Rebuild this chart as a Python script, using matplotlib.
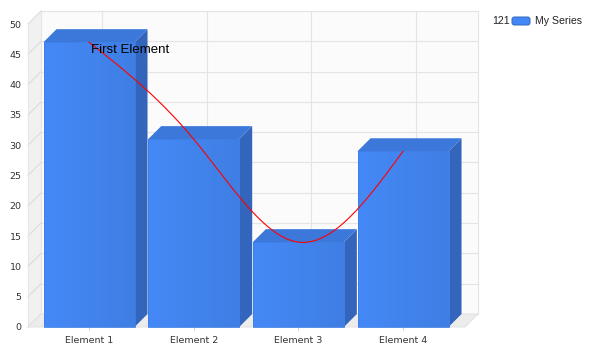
import numpy as np
import matplotlib
matplotlib.use("Agg")
import matplotlib.pyplot as plt
from matplotlib.patches import Polygon, FancyBboxPatch
from matplotlib.colors import LinearSegmentedColormap

# ---- data ----
categories = ["Element 1", "Element 2", "Element 3", "Element 4"]
values = [47, 31, 14, 29]
series_name = "My Series"
legend_prefix = "121"
point_label = "First Element"
y_ticks = list(range(0, 55, 5))
y_max = 50

W, H, DPI = 591, 354, 100
fig = plt.figure(figsize=(W / DPI, H / DPI), dpi=DPI)
fig.patch.set_facecolor("white")

# front plane of the 3D chart
ax_l, ax_b, ax_w, ax_h = 28, 27, 437, 303
ax = fig.add_axes([ax_l / W, ax_b / H, ax_w / W, ax_h / H])
xmin, xmax = -0.583, 3.592
ax.set_xlim(xmin, xmax)
ax.set_ylim(0, y_max)
for s in ax.spines.values():
    s.set_visible(False)
ax.patch.set_visible(False)

DEPTH = 13  # px
dx = DEPTH * (xmax - xmin) / ax_w
dy = DEPTH * y_max / ax_h

def poly(pts, fc, ec="none", lw=0.0, z=1):
    p = Polygon(pts, closed=True, facecolor=fc, edgecolor=ec, linewidth=lw,
                zorder=z, clip_on=False)
    ax.add_patch(p)

grid_c = "#e4e4e4"
# back wall
poly([(xmin + dx, dy), (xmax + dx, dy), (xmax + dx, y_max + dy), (xmin + dx, y_max + dy)],
     "#fbfbfb", z=0.5)
for v in y_ticks:
    ax.plot([xmin + dx, xmax + dx], [v + dy, v + dy], color=grid_c, lw=0.8,
            zorder=0.6, clip_on=False)
for i in range(len(categories)):
    ax.plot([i + dx, i + dx], [dy, y_max + dy], color=grid_c, lw=0.8,
            zorder=0.6, clip_on=False)
ax.plot([xmax + dx, xmax + dx], [dy, y_max + dy], color=grid_c, lw=0.8,
        zorder=0.6, clip_on=False)

# left wall
poly([(xmin, 0), (xmin, y_max), (xmin + dx, y_max + dy), (xmin + dx, dy)], "#f1f1f1", z=0.7)
for v in y_ticks:
    ax.plot([xmin, xmin + dx], [v, v + dy], color="#dcdcdc", lw=0.8, zorder=0.8, clip_on=False)
ax.plot([xmin + dx, xmin + dx], [dy, y_max + dy], color=grid_c, lw=0.8, zorder=0.8, clip_on=False)
ax.plot([xmin, xmin], [0, y_max], color="#e6e6e6", lw=0.8, zorder=0.8, clip_on=False)

# floor
poly([(xmin, 0), (xmax, 0), (xmax + dx, dy), (xmin + dx, dy)], "#ececec",
     ec="#e0e0e0", lw=0.7, z=0.9)

# bars
bw = 91 / ((xmax - xmin) / 1.0) * (xmax - xmin) / ax_w * 1.0
bw = 91 * (xmax - xmin) / ax_w
cmap = LinearSegmentedColormap.from_list("bar", ["#4589f7", "#3f7fe4"])
grad = np.linspace(0, 1, 64).reshape(1, -1)
for i, v in enumerate(values):
    x0, x1 = i - bw / 2, i + bw / 2
    poly([(x1, 0), (x1, v), (x1 + dx, v + dy), (x1 + dx, dy)], "#3465bd", z=2)
    poly([(x0, v), (x1, v), (x1 + dx, v + dy), (x0 + dx, v + dy)], "#3b78da", z=2)
    ax.imshow(grad, extent=(x0, x1, 0, v), aspect="auto", cmap=cmap,
              origin="lower", interpolation="bilinear", zorder=2.1)
    poly([(x0, 0), (x0, v), (x1, v), (x1, 0)], "none", ec="#3f7fe6", lw=0.6, z=2.2)

ax.set_xlim(xmin, xmax)
ax.set_ylim(0, y_max)

# smooth curve (natural cubic spline) through the values
xv = np.arange(len(values), dtype=float)
yv = np.array(values, dtype=float)
n = len(xv)
A = np.zeros((n, n)); b = np.zeros(n)
A[0, 0] = 1; A[-1, -1] = 1
for k in range(1, n - 1):
    A[k, k - 1], A[k, k], A[k, k + 1] = 1, 4, 1
    b[k] = 6 * (yv[k - 1] - 2 * yv[k] + yv[k + 1])
M = np.linalg.solve(A, b)
xs, ys = [], []
for k in range(n - 1):
    t = np.linspace(0, 1, 60)
    s = yv[k] * (1 - t) + yv[k + 1] * t + ((1 - t) ** 3 - (1 - t)) * M[k] / 6 + (t ** 3 - t) * M[k + 1] / 6
    xs.extend(xv[k] + t); ys.extend(s)
ax.plot(xs, ys, color="red", lw=0.8, zorder=10, clip_on=False)

ax.annotate(point_label, xy=(0, values[0]), xytext=(2, -8), textcoords="offset pixels",
            ha="left", va="center", fontsize=9.5, family="Liberation Sans",
            color="black", zorder=11)

# ticks
ax.set_yticks(y_ticks)
ax.set_yticklabels([str(t) for t in y_ticks])
ax.set_xticks(range(len(categories)))
ax.set_xticklabels(categories)
ax.tick_params(axis="y", length=0, pad=4.5, labelsize=6.8, labelcolor="#333333")
ax.tick_params(axis="x", length=2.5, width=0.7, color="#cccccc", pad=4,
               labelsize=6.8, labelcolor="#333333")

# legend
fig.text(492 / W, 1 - 21 / H, legend_prefix, fontsize=7.6, family="Liberation Sans",
         va="center", ha="left", color="#222222")
box = FancyBboxPatch((512 / W, 1 - 25 / H), 18 / W, 8 / H,
                     boxstyle="round,pad=0,rounding_size=0.004",
                     mutation_aspect=W / H,
                     transform=fig.transFigure, facecolor="#4287f5",
                     edgecolor="#3566c0", linewidth=0.7)
fig.patches.append(box)
fig.text(535 / W, 1 - 21 / H, series_name, fontsize=7.6, family="Liberation Sans",
         va="center", ha="left", color="#222222")

fig.savefig("out.png", dpi=DPI)
